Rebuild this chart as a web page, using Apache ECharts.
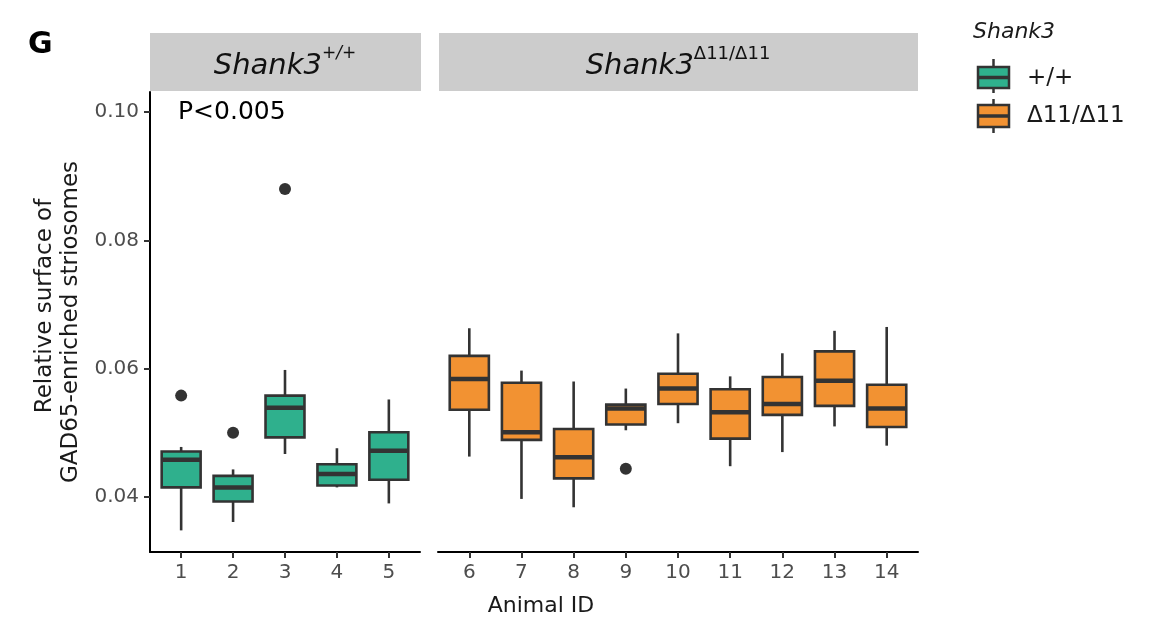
<!DOCTYPE html>
<html><head><meta charset="utf-8">
<script src="https://cdn.jsdelivr.net/npm/echarts@6/dist/echarts.min.js"></script>
<style>html,body{margin:0;padding:0;background:#fff}#c{width:1162px;height:618px}</style>
</head><body><div id="c"></div>
<script>
// ---- data ----
const wtAnimals   = [1, 2, 3, 4, 5];
const wtWhiskLow  = [0.0348, 0.0361, 0.0467, 0.0415, 0.0390];
const wtQ1        = [0.0415, 0.0393, 0.0493, 0.0418, 0.0427];
const wtMedian    = [0.0458, 0.0415, 0.0539, 0.0436, 0.0472];
const wtQ3        = [0.0471, 0.0433, 0.0558, 0.0451, 0.0501];
const wtWhiskHigh = [0.0478, 0.0443, 0.0598, 0.0476, 0.0552];
const wtOutlierAnimal = [1, 2, 3];
const wtOutlierValue  = [0.0558, 0.0500, 0.0880];

const mutAnimals   = [6, 7, 8, 9, 10, 11, 12, 13, 14];
const mutWhiskLow  = [0.0463, 0.0397, 0.0384, 0.0504, 0.0515, 0.0448, 0.0470, 0.0510, 0.0480];
const mutQ1        = [0.0536, 0.0489, 0.0429, 0.0513, 0.0545, 0.0491, 0.0528, 0.0542, 0.0509];
const mutMedian    = [0.0584, 0.0501, 0.0462, 0.0538, 0.0569, 0.0532, 0.0545, 0.0581, 0.0538];
const mutQ3        = [0.0620, 0.0578, 0.0506, 0.0544, 0.0592, 0.0568, 0.0587, 0.0627, 0.0575];
const mutWhiskHigh = [0.0663, 0.0597, 0.0580, 0.0569, 0.0655, 0.0588, 0.0624, 0.0659, 0.0665];
const mutOutlierAnimal = [9];
const mutOutlierValue  = [0.0444];

const yTicks = [0.04, 0.06, 0.08, 0.10];
const groupNames = ['+/+', 'Δ11/Δ11'];
// ----------------------------------------

const GREEN = '#2FB08D', ORANGE = '#F29232', DARK = '#333333';
const FONT = 'DejaVu Sans';
const SW = 2.6;

function boxRows(a, lo, q1, md, q3, hi) {
  return a.map((x, i) => [x, lo[i], q1[i], md[i], q3[i], hi[i]]);
}
function pts(a, v) { return a.map((x, i) => [x, v[i]]); }

function renderBox(params, api) {
  const x = api.value(0);
  const pLo = api.coord([x, api.value(1)]);
  const pQ1 = api.coord([x, api.value(2)]);
  const pMd = api.coord([x, api.value(3)]);
  const pQ3 = api.coord([x, api.value(4)]);
  const pHi = api.coord([x, api.value(5)]);
  const w = api.size([0.75, 0])[0];
  const cx = pMd[0];
  const fill = api.visual('color');
  return {
    type: 'group',
    children: [
      { type: 'line', shape: { x1: cx, y1: pHi[1], x2: cx, y2: pQ3[1] }, style: { stroke: DARK, lineWidth: SW } },
      { type: 'line', shape: { x1: cx, y1: pQ1[1], x2: cx, y2: pLo[1] }, style: { stroke: DARK, lineWidth: SW } },
      { type: 'rect', shape: { x: cx - w / 2, y: pQ3[1], width: w, height: pQ1[1] - pQ3[1] }, style: { fill: fill, stroke: DARK, lineWidth: SW } },
      { type: 'line', shape: { x1: cx - w / 2, y1: pMd[1], x2: cx + w / 2, y2: pMd[1] }, style: { stroke: DARK, lineWidth: 4.5 } }
    ]
  };
}

const YMIN = 0.031429, YMAX = 0.103117;

function xAxisCfg(grid, min, max, ticks) {
  return {
    type: 'value', gridIndex: grid, min: min, max: max,
    splitLine: { show: false },
    axisLine: { show: true, onZero: false, lineStyle: { color: '#000', width: 2 } },
    axisTick: { show: true, length: 6, customValues: ticks, lineStyle: { color: DARK, width: 2 } },
    axisLabel: { customValues: ticks, fontSize: 20, color: '#4d4d4d', margin: 11, fontFamily: FONT }
  };
}

const chart = echarts.init(document.getElementById('c'), null, { renderer: 'canvas' });
chart.setOption({
  backgroundColor: '#fff',
  animation: false,
  grid: [
    { left: 150, top: 92, width: 270, height: 460 },
    { left: 438, top: 92, width: 480, height: 460 }
  ],
  xAxis: [
    xAxisCfg(0, 0.4, 5.6, wtAnimals),
    xAxisCfg(1, 5.4, 14.6, mutAnimals)
  ],
  yAxis: [
    {
      type: 'value', gridIndex: 0, min: YMIN, max: YMAX,
      splitLine: { show: false },
      axisLine: { show: true, onZero: false, lineStyle: { color: '#000', width: 2 } },
      axisTick: { show: true, length: 6, customValues: yTicks, lineStyle: { color: DARK, width: 2 } },
      axisLabel: { customValues: yTicks, formatter: v => v.toFixed(2), fontSize: 20, color: '#4d4d4d', margin: 11, fontFamily: FONT }
    },
    { type: 'value', gridIndex: 1, min: YMIN, max: YMAX, show: false, splitLine: { show: false } }
  ],
  series: [
    {
      name: groupNames[0], type: 'custom', xAxisIndex: 0, yAxisIndex: 0,
      renderItem: renderBox, itemStyle: { color: GREEN },
      encode: { x: 0, y: [1, 2, 3, 4, 5] },
      data: boxRows(wtAnimals, wtWhiskLow, wtQ1, wtMedian, wtQ3, wtWhiskHigh)
    },
    {
      name: groupNames[1], type: 'custom', xAxisIndex: 1, yAxisIndex: 1,
      renderItem: renderBox, itemStyle: { color: ORANGE },
      encode: { x: 0, y: [1, 2, 3, 4, 5] },
      data: boxRows(mutAnimals, mutWhiskLow, mutQ1, mutMedian, mutQ3, mutWhiskHigh)
    },
    {
      type: 'scatter', xAxisIndex: 0, yAxisIndex: 0, symbolSize: 12,
      itemStyle: { color: DARK, opacity: 1 }, data: pts(wtOutlierAnimal, wtOutlierValue)
    },
    {
      type: 'scatter', xAxisIndex: 1, yAxisIndex: 1, symbolSize: 12,
      itemStyle: { color: DARK, opacity: 1 }, data: pts(mutOutlierAnimal, mutOutlierValue)
    }
  ],
  graphic: [
    { type: 'text', left: 28, top: 30, style: { text: 'G', font: 'bold 30px "DejaVu Sans"', fill: '#000' } },
    // strips
    { type: 'rect', shape: { x: 150, y: 33, width: 271, height: 58 }, style: { fill: '#cccccc' } },
    { type: 'rect', shape: { x: 439, y: 33, width: 479, height: 58 }, style: { fill: '#cccccc' } },
    {
      type: 'text', x: 285, y: 63,
      style: {
        text: '{m|Shank3}{s|+/+}', align: 'center', verticalAlign: 'middle',
        rich: {
          m: { fontSize: 29, fontStyle: 'italic', fontFamily: FONT, fill: '#111', lineHeight: 36, verticalAlign: 'bottom' },
          s: { fontSize: 17, fontStyle: 'italic', fontFamily: FONT, fill: '#111', lineHeight: 8, verticalAlign: 'top' }
        }
      }
    },
    {
      type: 'text', x: 678, y: 63,
      style: {
        text: '{m|Shank3}{s|Δ11/Δ11}', align: 'center', verticalAlign: 'middle',
        rich: {
          m: { fontSize: 29, fontStyle: 'italic', fontFamily: FONT, fill: '#111', lineHeight: 36, verticalAlign: 'bottom' },
          s: { fontSize: 18, fontFamily: FONT, fill: '#111', lineHeight: 22, verticalAlign: 'top' }
        }
      }
    },
    // annotation
    { type: 'text', x: 178, y: 112, style: { text: 'P<0.005', font: '25px "DejaVu Sans"', fill: '#000', verticalAlign: 'middle' } },
    // axis titles
    { type: 'text', x: 541, y: 606, style: { text: 'Animal ID', font: '22px "DejaVu Sans"', fill: '#1a1a1a', align: 'center', verticalAlign: 'middle' } },
    { type: 'text', x: 45, y: 306, rotation: Math.PI / 2, style: { text: 'Relative surface of', font: '23px "DejaVu Sans"', fill: '#1a1a1a', align: 'center', verticalAlign: 'middle' } },
    { type: 'text', x: 71, y: 322, rotation: Math.PI / 2, style: { text: 'GAD65-enriched striosomes', font: '23px "DejaVu Sans"', fill: '#1a1a1a', align: 'center', verticalAlign: 'middle' } },
    // legend
    { type: 'text', x: 973, y: 32, style: { text: 'Shank3', font: 'italic 22px "DejaVu Sans"', fill: '#1a1a1a', verticalAlign: 'middle' } },
    { type: 'line', shape: { x1: 993.5, y1: 59, x2: 993.5, y2: 93 }, style: { stroke: DARK, lineWidth: 2.5 } },
    { type: 'rect', shape: { x: 978, y: 67, width: 31, height: 21 }, style: { fill: GREEN, stroke: DARK, lineWidth: 2.5 } },
    { type: 'line', shape: { x1: 978, y1: 77.5, x2: 1009, y2: 77.5 }, style: { stroke: DARK, lineWidth: 3.5 } },
    { type: 'text', x: 1027, y: 78, style: { text: groupNames[0], font: '23px "DejaVu Sans"', fill: '#1a1a1a', verticalAlign: 'middle' } },
    { type: 'line', shape: { x1: 993.5, y1: 99, x2: 993.5, y2: 133 }, style: { stroke: DARK, lineWidth: 2.5 } },
    { type: 'rect', shape: { x: 978, y: 105, width: 31, height: 22 }, style: { fill: ORANGE, stroke: DARK, lineWidth: 2.5 } },
    { type: 'line', shape: { x1: 978, y1: 116, x2: 1009, y2: 116 }, style: { stroke: DARK, lineWidth: 3.5 } },
    { type: 'text', x: 1027, y: 116, style: { text: groupNames[1], font: '23px "DejaVu Sans"', fill: '#1a1a1a', verticalAlign: 'middle' } }
  ]
});
</script>
</body></html>
